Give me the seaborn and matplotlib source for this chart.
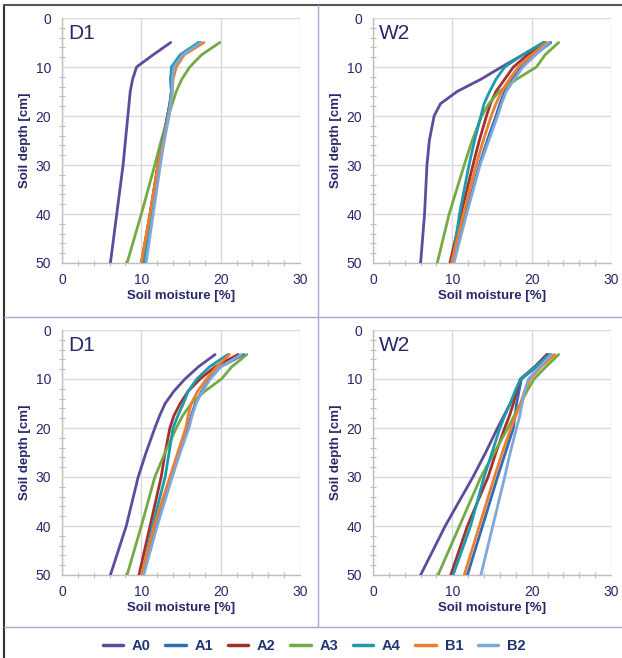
import matplotlib
matplotlib.use("Agg")
import matplotlib.pyplot as plt
from matplotlib.lines import Line2D
from matplotlib.ticker import MultipleLocator
import seaborn as sns
import pandas as pd

# === Data: soil moisture [%] per depth ===
depths = [5, 7.5, 10, 12.5, 15, 17.5, 20, 25, 30, 40, 50]
series_names = ["A0", "A1", "A2", "A3", "A4", "B1", "B2"]
colors = ["#5F4B9E", "#2F6DB5", "#A3302F", "#74AA43", "#1C9BAD", "#EE7D2E", "#7FA8DA"]

# top-left panel (D1)
d1_top = {
    "A0": [13.7, 11.5, 9.4, 8.9, 8.6, 8.45, 8.3, 8.0, 7.7, 6.9, 6.1],
    "A1": [17.4, 15.0, 13.9, 13.7, 13.8, 13.6, 13.3, 12.7, 12.1, 11.1, 10.1],
    "A2": [17.5, 15.1, 14.0, 13.8, 13.8, 13.6, 13.3, 12.7, 12.1, 11.1, 10.0],
    "A3": [19.9, 17.6, 16.1, 15.1, 14.4, 13.9, 13.4, 12.5, 11.7, 10.0, 8.2],
    "A4": [17.2, 14.9, 13.8, 13.7, 13.8, 13.6, 13.3, 12.7, 12.1, 11.2, 10.3],
    "B1": [17.9, 15.4, 14.4, 14.0, 13.9, 13.7, 13.4, 12.8, 12.1, 11.1, 10.0],
    "B2": [17.5, 15.2, 14.1, 13.9, 13.9, 13.7, 13.5, 12.9, 12.4, 11.5, 10.6],
}
# top-right panel (W2)
w2_top = {
    "A0": [21.5, 18.9, 16.2, 13.6, 10.6, 8.5, 7.7, 7.1, 6.8, 6.5, 6.0],
    "A1": [22.4, 20.4, 18.7, 17.6, 16.6, 16.0, 15.5, 14.4, 13.4, 11.7, 10.1],
    "A2": [21.7, 19.5, 17.7, 16.6, 15.5, 14.8, 14.3, 13.4, 12.6, 11.1, 9.7],
    "A3": [23.4, 21.7, 20.6, 18.1, 15.9, 14.6, 13.7, 12.5, 11.5, 9.6, 8.1],
    "A4": [21.5, 18.9, 16.6, 15.5, 14.7, 14.0, 13.6, 12.8, 12.1, 10.9, 10.0],
    "B1": [21.9, 20.0, 18.3, 17.2, 16.2, 15.5, 14.9, 13.9, 13.0, 11.4, 9.9],
    "B2": [22.2, 20.5, 18.9, 17.8, 16.8, 16.2, 15.7, 14.6, 13.5, 11.8, 10.2],
}
# bottom-left panel (D1)
d1_bottom = {
    "A0": [19.3, 17.2, 15.5, 14.1, 13.0, 12.3, 11.7, 10.6, 9.6, 8.1, 6.1],
    "A1": [22.9, 20.0, 18.6, 17.6, 16.8, 16.3, 15.9, 14.8, 13.8, 11.9, 10.2],
    "A2": [22.2, 19.3, 17.4, 15.9, 14.9, 14.1, 13.6, 13.0, 12.5, 11.1, 9.7],
    "A3": [23.3, 21.4, 20.1, 18.0, 16.3, 15.2, 14.4, 13.0, 11.7, 10.0, 8.2],
    "A4": [20.9, 18.6, 17.0, 15.9, 15.3, 14.6, 14.0, 13.5, 13.0, 11.4, 10.1],
    "B1": [21.1, 19.5, 18.2, 17.1, 16.3, 15.9, 15.6, 14.6, 13.6, 11.6, 10.0],
    "B2": [22.6, 20.0, 18.7, 17.7, 16.9, 16.4, 16.0, 14.9, 13.9, 12.0, 10.3],
}
# bottom-right panel (W2)
w2_bottom = {
    "A0": [21.9, 20.4, 18.6, 18.0, 17.3, 16.5, 15.7, 14.2, 12.6, 9.1, 6.0],
    "A1": [22.4, 20.6, 18.7, 18.4, 18.1, 17.9, 17.7, 16.7, 15.7, 13.8, 11.9],
    "A2": [22.0, 20.4, 18.6, 18.1, 17.7, 17.2, 16.6, 15.5, 14.5, 11.9, 9.8],
    "A3": [23.4, 21.8, 20.3, 19.4, 18.6, 17.8, 17.0, 15.3, 13.6, 10.9, 8.2],
    "A4": [22.2, 20.5, 18.6, 17.9, 17.3, 16.6, 16.0, 15.0, 14.0, 12.3, 10.1],
    "B1": [22.9, 21.2, 19.8, 19.1, 18.6, 18.0, 17.4, 16.3, 15.3, 13.4, 11.5],
    "B2": [22.5, 21.0, 19.6, 19.1, 18.8, 18.5, 18.1, 17.3, 16.6, 15.1, 13.6],
}

panels = [("D1", d1_top), ("W2", w2_top), ("D1", d1_bottom), ("W2", w2_bottom)]

navy = "#26286A"
grid_col = "#D9D9D9"
frame_col = "#A9A6CF"

sns.set_theme(style="white")
plt.rcParams["font.family"] = ["Liberation Sans", "DejaVu Sans"]

fig = plt.figure(figsize=(6.22, 6.58), dpi=100)

# axes rectangles in figure fraction
W, H = 622, 658
boxes = [(62, 18), (373, 18), (62, 330), (373, 330)]
aw, ah = 238, 245

palette = dict(zip(series_names, colors))

for (label, values), (px, py) in zip(panels, boxes):
    ax = fig.add_axes([px / W, 1 - (py + ah) / H, aw / W, ah / H])
    rows = []
    for name in series_names:
        for d, m in zip(depths, values[name]):
            rows.append({"depth": d, "moisture": m, "series": name})
    df = pd.DataFrame(rows)
    sns.lineplot(data=df, x="moisture", y="depth", hue="series", orient="y",
                 palette=palette, hue_order=series_names, linewidth=2,
                 errorbar=None, legend=False, ax=ax, zorder=3)
    ax.set_xlim(0, 30)
    ax.set_ylim(50, 0)
    ax.xaxis.set_major_locator(MultipleLocator(10))
    ax.yaxis.set_major_locator(MultipleLocator(10))
    ax.xaxis.set_minor_locator(MultipleLocator(2))
    ax.yaxis.set_minor_locator(MultipleLocator(2))
    ax.grid(True, which="major", color=grid_col, linewidth=1)
    for side in ["top", "right"]:
        ax.spines[side].set_visible(False)
    for side in ["left", "bottom"]:
        ax.spines[side].set_color("#BFBFBF")
        ax.spines[side].set_linewidth(1)
    ax.tick_params(which="both", bottom=True, left=True)
    ax.tick_params(which="major", length=0, labelsize=10, labelcolor=navy)
    ax.tick_params(axis="x", which="major", pad=7.5)
    ax.tick_params(axis="y", which="major", pad=8)
    ax.tick_params(which="minor", length=4, width=0.8, color="#BFBFBF", direction="inout")
    ax.set_xlabel("Soil moisture [%]", fontsize=9.5, fontweight="bold", color=navy, labelpad=2)
    ax.set_ylabel("Soil depth [cm]", fontsize=9.5, fontweight="bold", color=navy, labelpad=3)
    ax.text(0.025, 0.975, label, transform=ax.transAxes, ha="left", va="top",
            fontsize=15, color=navy)

# panel frame lines
fig.add_artist(Line2D([4 / W, 4 / W], [0, 1 - 5 / H], color="#333333", linewidth=1.5))
fig.add_artist(Line2D([4 / W, 1], [1 - 5 / H, 1 - 5 / H], color="#555555", linewidth=1.5))
fig.add_artist(Line2D([318 / W, 318 / W], [1 - 627 / H, 1 - 5 / H], color=frame_col, linewidth=1))
fig.add_artist(Line2D([4 / W, 1], [1 - 317 / H, 1 - 317 / H], color=frame_col, linewidth=1))
fig.add_artist(Line2D([4 / W, 1], [1 - 627 / H, 1 - 627 / H], color=frame_col, linewidth=1))

handles = [Line2D([0], [0], color=c, linewidth=2.5) for c in colors]
leg = fig.legend(handles, series_names, loc="center", bbox_to_anchor=(0.505, 1 - 646 / H),
                 ncol=7, frameon=False, handlelength=1.4, handletextpad=0.6,
                 columnspacing=1.0, prop={"weight": "bold", "size": 10.5})
for t in leg.get_texts():
    t.set_color("#1F3472")

fig.savefig("out.png", dpi=100)
